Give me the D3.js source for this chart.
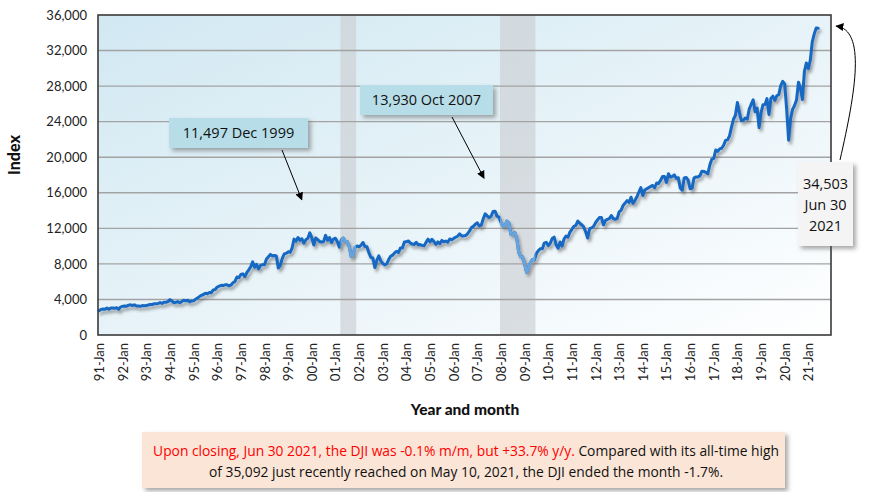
<!DOCTYPE html>
<html><head><meta charset="utf-8">
<script src="https://cdn.jsdelivr.net/npm/d3@7"></script>
<style>body{margin:0;background:#fff}svg{display:block}</style>
</head><body><svg id="c" width="870" height="492"></svg>
<script>
// ---- data (month-end DJI closes, Jan 1991 .. Jun 2021) ----
const startMonth = "1991-01";
const axisEndMonth = "2021-12";
const djiValues = [
// 1991
2736,2882,2913,2888,3028,2907,3025,3044,3017,3069,2895,3169,
// 1992
3224,3267,3236,3359,3397,3319,3394,3257,3272,3226,3305,3301,
// 1993
3310,3371,3435,3428,3527,3516,3540,3651,3555,3681,3684,3754,
// 1994
3978,3832,3636,3682,3758,3625,3765,3913,3843,3908,3739,3834,
// 1995
3844,4011,4158,4321,4465,4556,4709,4647,4789,4756,5075,5117,
// 1996
5395,5486,5587,5569,5643,5655,5529,5616,5882,6029,6522,6448,
// 1997
6813,6878,6584,7009,7331,7673,8223,7622,7945,7442,7823,7908,
// 1998
7907,8546,8800,9063,8900,8952,8883,7539,7843,8592,9117,9181,
// 1999
9359,9307,9786,10789,10560,10971,10655,10829,10337,10729,10878,11497,
// 2000
10941,10128,10922,10734,10522,10448,10522,11215,10651,10971,10415,10788,
// 2001
10887,10495,9879,10735,10912,10502,10523,9950,8848,9075,9852,10022,
// 2002
9920,10106,10404,9946,9925,9243,8737,8664,7592,8397,8896,8342,
// 2003
8054,7891,7992,8480,8850,8985,9234,9416,9275,9801,9782,10454,
// 2004
10488,10584,10358,10226,10188,10435,10140,10174,10080,10027,10428,10783,
// 2005
10490,10766,10504,10193,10467,10275,10641,10482,10569,10440,10806,10718,
// 2006
10865,10993,11109,11367,11168,11150,11186,11381,11679,12081,12222,12463,
// 2007
12622,12269,12354,13063,13628,13409,13212,13358,13896,13930,13372,13265,
// 2008
12650,12266,12263,12820,12638,11350,11378,11544,10851,9325,8829,8776,
// 2009
8001,7063,7609,8168,8500,8447,9172,9496,9712,9713,10345,10428,
// 2010
10067,10325,10857,11009,10137,9774,10466,10015,10788,11118,11006,11578,
// 2011
11892,12226,12320,12811,12570,12414,12143,11614,10913,11955,12046,12218,
// 2012
12633,12952,13212,13214,12393,12880,13009,13091,13437,13096,13026,13104,
// 2013
13861,14054,14579,14840,15116,14910,15500,14810,15130,15546,16086,16577,
// 2014
15699,16322,16458,16581,16717,16827,16563,17098,17043,17391,17828,17823,
// 2015
17165,18133,17776,17841,18011,17620,17690,16528,16285,17664,17720,17425,
// 2016
16466,16517,17685,17774,17787,17930,18432,18401,18308,18142,19124,19763,
// 2017
19864,20812,20663,20941,21009,21350,21891,21948,22405,23377,24272,24719,
// 2018
26149,25029,24103,24163,24416,24271,25415,25965,26458,25116,25538,23327,
// 2019
25000,25916,25929,26593,24815,26600,26864,26403,26917,27046,28051,28538,
// 2020
28256,25409,21917,24346,25383,25813,26428,28430,27782,26502,29639,30606,
// 2021
29983,30932,32982,33875,34529,34503
];
const yTicks = [0,4000,8000,12000,16000,20000,24000,28000,32000,36000];
const xTickLabels = ["91-Jan","92-Jan","93-Jan","94-Jan","95-Jan","96-Jan","97-Jan","98-Jan","99-Jan","00-Jan",
  "01-Jan","02-Jan","03-Jan","04-Jan","05-Jan","06-Jan","07-Jan","08-Jan","09-Jan","10-Jan",
  "11-Jan","12-Jan","13-Jan","14-Jan","15-Jan","16-Jan","17-Jan","18-Jan","19-Jan","20-Jan","21-Jan"];
const recessions = [["2001-04","2001-11"],["2008-01","2009-06"]];
const callouts = [
  {text:"11,497 Dec 1999", month:"1999-12"},
  {text:"13,930 Oct 2007", month:"2007-10"}
];
const lastLabel = ["34,503","Jun 30","2021"];
const noteRed = "Upon closing, Jun 30 2021, the DJI was -0.1% m/m, but +33.7% y/y.";
const noteBlack1 = " Compared with its all-time high";
const noteLine2 = "of 35,092 just recently reached on May 10, 2021, the DJI ended the month -1.7%.";

// ---- setup ----
const svg = d3.select("#c");
const m = {l:98, r:831, t:15, b:335};
const parse = d3.utcParse("%Y-%m");
const months = d3.utcMonth.range(parse(startMonth), d3.utcMonth.offset(parse(axisEndMonth),1));
const fmtKey = d3.utcFormat("%Y-%m");
const keys = months.map(fmtKey);
const x = d3.scaleBand().domain(keys).range([m.l, m.r]).paddingInner(0).paddingOuter(0);
const xc = k => x(k) + x.bandwidth()/2;
const y = d3.scaleLinear().domain([0,36000]).range([m.b, m.t]);
const data = djiValues.map((v,i)=>({k:keys[i], v}));

const defs = svg.append("defs");
const grad = defs.append("linearGradient").attr("id","bg").attr("x1","0").attr("y1","0").attr("x2","1").attr("y2","1");
grad.append("stop").attr("offset","0%").attr("stop-color","#d1e8f2");
grad.append("stop").attr("offset","55%").attr("stop-color","#e9f4f9");
grad.append("stop").attr("offset","100%").attr("stop-color","#ffffff");
const sh = defs.append("filter").attr("id","shadow").attr("x","-10%").attr("y","-10%").attr("width","130%").attr("height","140%");
sh.append("feDropShadow").attr("dx",2).attr("dy",3).attr("stdDeviation",1.6).attr("flood-color","#333").attr("flood-opacity",0.45);
const bsh = defs.append("filter").attr("id","boxshadow").attr("x","-10%").attr("y","-20%").attr("width","130%").attr("height","160%");
bsh.append("feDropShadow").attr("dx",3).attr("dy",3).attr("stdDeviation",2).attr("flood-color","#555").attr("flood-opacity",0.5);
const mk = defs.append("marker").attr("id","arr").attr("viewBox","0 0 10 10").attr("refX",9).attr("refY",5)
  .attr("markerWidth",8).attr("markerHeight",8).attr("orient","auto").attr("markerUnits","userSpaceOnUse");
mk.append("path").attr("d","M0,0 L10,5 L0,10 z").attr("fill","#000");
const cp = defs.append("clipPath").attr("id","recClip");
recessions.forEach(r=>{
  cp.append("rect").attr("x", x(r[0])).attr("y", m.t).attr("width", x(r[1]) + x.bandwidth() - x(r[0])).attr("height", m.b-m.t);
});

// background
svg.append("rect").attr("x",m.l).attr("y",m.t).attr("width",m.r-m.l).attr("height",m.b-m.t).attr("fill","url(#bg)");
// recession bands
svg.append("g").selectAll("rect").data(recessions).join("rect")
  .attr("x", d=>x(d[0])).attr("y", m.t)
  .attr("width", d=> x(d[1]) + x.bandwidth() - x(d[0])).attr("height", m.b-m.t)
  .attr("fill","#cdd1d5").attr("opacity",0.7);
// gridlines
svg.append("g").selectAll("line").data(yTicks.filter(t=>t>0 && t<36000)).join("line")
  .attr("x1",m.l).attr("x2",m.r).attr("y1",d=>y(d)).attr("y2",d=>y(d))
  .attr("stroke","#a3a3a3").attr("stroke-width",1.4);

// line
const line = d3.line().x(d=>xc(d.k)).y(d=>y(d.v));
const lg = svg.append("g").attr("filter","url(#shadow)");
lg.append("path").datum(data).attr("d",line).attr("fill","none").attr("stroke","#1268c2")
  .attr("stroke-width",3).attr("stroke-linejoin","round").attr("stroke-linecap","round");
svg.append("path").datum(data).attr("d",line).attr("fill","none").attr("stroke","#67a3dc")
  .attr("stroke-width",3).attr("stroke-linejoin","round").attr("clip-path","url(#recClip)");

// frame
svg.append("rect").attr("x",m.l).attr("y",m.t).attr("width",m.r-m.l).attr("height",m.b-m.t)
  .attr("fill","none").attr("stroke","#3a3a3a").attr("stroke-width",1.6);

// y axis labels
const yAxis = d3.axisLeft(y).tickValues(yTicks).tickFormat(d3.format(",")).tickSize(0).tickPadding(11);
const ya = svg.append("g").attr("transform",`translate(${m.l},0)`).call(yAxis);
ya.select(".domain").remove();
ya.selectAll("text").attr("font-family","Lato, sans-serif").attr("font-size",13).attr("fill","#222");

// x axis labels
const xAxis = d3.axisBottom(x).tickValues(keys.filter(k=>k.endsWith("-01")))
  .tickFormat((k,i)=>xTickLabels[i]).tickSize(0).tickPadding(0);
const xa = svg.append("g").attr("transform",`translate(0,${m.b})`).call(xAxis);
xa.select(".domain").remove();
xa.selectAll("text").attr("font-family","Lato, sans-serif").attr("font-size",13).attr("fill","#222")
  .attr("text-anchor","end").attr("dy",null).attr("y",0)
  .attr("transform","translate(0,8) rotate(-90)").attr("dominant-baseline","central").attr("x",0);

// axis titles
svg.append("text").attr("transform","translate(20,155) rotate(-90)").attr("text-anchor","middle")
  .attr("font-family","Lato, sans-serif").attr("font-weight",900).attr("font-size",16).attr("fill","#111").text("Index");
svg.append("text").attr("x",465).attr("y",415).attr("text-anchor","middle")
  .attr("font-family","Lato, sans-serif").attr("font-weight",900).attr("font-size",15.5).attr("fill","#111").text("Year and month");

// callouts
const boxes = [
  {x:169,y:118,w:139,h:30, tx:282, ty:150, dx:-8, dy:-33},
  {x:360,y:85,w:133,h:30, tx:452, ty:117, dx:-11, dy:-33}
];
callouts.forEach((c,i)=>{
  const b = boxes[i];
  const pt = data.find(d=>d.k===c.month);
  svg.append("rect").attr("x",b.x).attr("y",b.y).attr("width",b.w).attr("height",b.h)
    .attr("fill","#b7dee8").attr("filter","url(#boxshadow)");
  svg.append("text").attr("x",b.x+b.w/2).attr("y",b.y+b.h/2+5).attr("text-anchor","middle")
    .attr("font-family","'Open Sans', sans-serif").attr("font-size",14.5).attr("fill","#111").text(c.text);
  svg.append("line").attr("x1",b.tx).attr("y1",b.ty).attr("x2",xc(pt.k)+b.dx).attr("y2",y(pt.v)+b.dy)
    .attr("stroke","#000").attr("stroke-width",1).attr("marker-end","url(#arr)");
});

// last-value callout
const last = data[data.length-1];
svg.append("path").attr("d",`M840,160 C856,90 866,30 ${xc(last.k)+18},26`)
  .attr("fill","none").attr("stroke","#000").attr("stroke-width",1).attr("marker-end","url(#arr)");
svg.append("rect").attr("x",798).attr("y",162).attr("width",55).attr("height",84)
  .attr("fill","#f4f4f4").attr("filter","url(#boxshadow)");
svg.append("text").attr("text-anchor","middle").attr("font-family","'Open Sans', sans-serif").attr("font-size",14.5).attr("fill","#111")
  .selectAll("tspan").data(lastLabel).join("tspan").attr("x",825.5).attr("y",(d,i)=>189+i*21).text(d=>d);

// bottom note
svg.append("rect").attr("x",142).attr("y",432).attr("width",643).attr("height",56)
  .attr("fill","#fbe5d6").attr("filter","url(#boxshadow)");
const t1 = svg.append("text").attr("x",466).attr("y",456).attr("text-anchor","middle")
  .attr("font-family","'Open Sans', sans-serif").attr("font-size",13.8);
t1.append("tspan").attr("fill","#ff0000").text(noteRed);
t1.append("tspan").attr("fill","#111").text(noteBlack1);
svg.append("text").attr("x",466).attr("y",477).attr("text-anchor","middle")
  .attr("font-family","'Open Sans', sans-serif").attr("font-size",13.8).attr("fill","#111").text(noteLine2);
</script></body></html>
